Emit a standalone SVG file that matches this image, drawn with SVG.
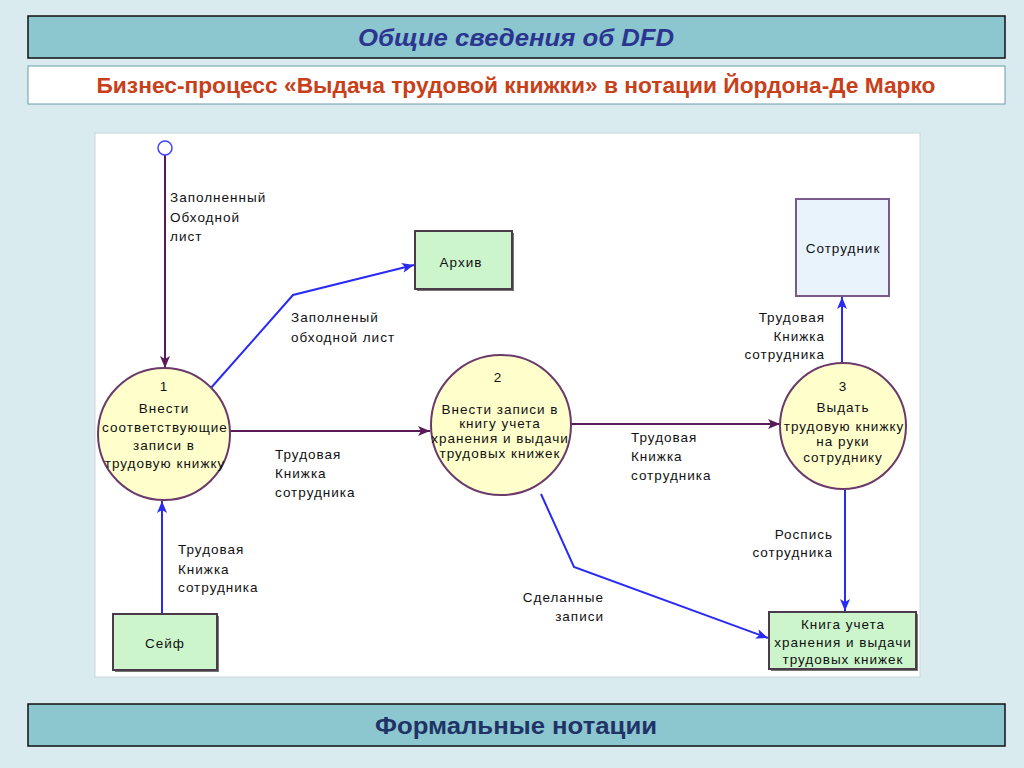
<svg xmlns="http://www.w3.org/2000/svg" width="1024" height="768" viewBox="0 0 1024 768">
<defs>
<style>
.lbl{font-family:"Liberation Sans",Arial,sans-serif;font-size:13.5px;letter-spacing:1px;fill:#111}
.mid{text-anchor:middle}
.end{text-anchor:end}
.proc{fill:#ffffcc;stroke:#6b3a6b;stroke-width:2}
.store{fill:#ccf5cc;stroke:#4a3a4a;stroke-width:2}
.shadow{fill:#777777}
.purple{stroke:#5a1a5a;stroke-width:2;fill:none}
.blue{stroke:#2a2af5;stroke-width:2;fill:none}
.banner{fill:#8cc6cf;stroke:#111;stroke-width:1.5}
</style>
<marker id="ap" viewBox="0 0 12 10" refX="12" refY="5" markerWidth="12" markerHeight="10" orient="auto" markerUnits="userSpaceOnUse"><path d="M0,0 L12,5 L0,10 L3,5 z" fill="#5a1a5a"/></marker>
<marker id="ab" viewBox="0 0 12 10" refX="12" refY="5" markerWidth="12" markerHeight="10" orient="auto" markerUnits="userSpaceOnUse"><path d="M0,0 L12,5 L0,10 L3,5 z" fill="#2a2af5"/></marker>
</defs>
<rect x="0" y="0" width="1024" height="768" fill="#d9ebef"/>
<g id="title">
<rect class="banner" x="28" y="16" width="977" height="42"/>
<text x="516" y="46" text-anchor="middle" font-family="Liberation Sans,Arial,sans-serif" font-size="24" font-weight="bold" font-style="italic" fill="#2b3590" textLength="316" lengthAdjust="spacingAndGlyphs">Общие сведения об DFD</text>
</g>
<g id="subtitle">
<rect x="28" y="66" width="977" height="38" fill="#ffffff" stroke="#6a9aa8" stroke-width="1"/>
<text x="516" y="93" text-anchor="middle" font-family="Liberation Sans,Arial,sans-serif" font-size="22" font-weight="bold" fill="#c8401a" textLength="839" lengthAdjust="spacingAndGlyphs">Бизнес-процесс «Выдача трудовой книжки» в нотации Йордона-Де Марко</text>
</g>
<g id="footer">
<rect class="banner" x="28" y="704" width="977" height="42"/>
<text x="516" y="734" text-anchor="middle" font-family="Liberation Sans,Arial,sans-serif" font-size="24" font-weight="bold" fill="#1f3366" textLength="282" lengthAdjust="spacingAndGlyphs">Формальные нотации</text>
</g>
<rect x="95" y="133" width="825" height="544" fill="#ffffff" stroke="#c8d8dc" stroke-width="1"/>

<g id="connectors">
<line class="purple" x1="165" y1="155" x2="165" y2="368" marker-end="url(#ap)"/>
<polyline class="blue" points="210,389 293,295 414,265" marker-end="url(#ab)"/>
<line class="purple" x1="230" y1="431" x2="430" y2="431" marker-end="url(#ap)"/>
<line class="blue" x1="162" y1="614" x2="162" y2="501" marker-end="url(#ab)"/>
<line class="purple" x1="571" y1="424" x2="780" y2="424" marker-end="url(#ap)"/>
<polyline class="blue" points="541,494 574,567 768,638" marker-end="url(#ab)"/>
<line class="blue" x1="842" y1="364" x2="842" y2="297" marker-end="url(#ab)"/>
<line class="blue" x1="845" y1="490" x2="845" y2="611" marker-end="url(#ab)"/>
<text class="lbl" x="170" y="202">Заполненный</text>
<text class="lbl" x="170" y="222">Обходной</text>
<text class="lbl" x="170" y="241">лист</text>
<text class="lbl" x="291" y="322">Заполненый</text>
<text class="lbl" x="291" y="342">обходной лист</text>
<text class="lbl" x="275" y="459">Трудовая</text>
<text class="lbl" x="275" y="478">Книжка</text>
<text class="lbl" x="275" y="497">сотрудника</text>
<text class="lbl" x="178" y="554">Трудовая</text>
<text class="lbl" x="178" y="574">Книжка</text>
<text class="lbl" x="178" y="592">сотрудника</text>
<text class="lbl" x="631" y="442">Трудовая</text>
<text class="lbl" x="631" y="461">Книжка</text>
<text class="lbl" x="631" y="480">сотрудника</text>
<text class="lbl end" x="825" y="322">Трудовая</text>
<text class="lbl end" x="825" y="341">Книжка</text>
<text class="lbl end" x="825" y="359">сотрудника</text>
<text class="lbl end" x="833" y="539">Роспись</text>
<text class="lbl end" x="833" y="557">сотрудника</text>
<text class="lbl end" x="604" y="602">Сделанные</text>
<text class="lbl end" x="604" y="621">записи</text>
</g>

<g id="start">
<circle cx="165" cy="148" r="7" fill="#ffffff" stroke="#4040ff" stroke-width="1.5"/>
</g>
<g id="p1">
<circle class="proc" cx="164" cy="434" r="66"/>
<text class="lbl mid" x="164" y="391">1</text>
<text class="lbl mid" x="164" y="413">Внести</text>
<text class="lbl mid" x="165" y="432">соответствующие</text>
<text class="lbl mid" x="164" y="450">записи в</text>
<text class="lbl mid" x="165" y="468">трудовую книжку</text>
</g>
<g id="p2">
<circle class="proc" cx="501" cy="425" r="70"/>
<text class="lbl mid" x="498" y="382">2</text>
<text class="lbl mid" x="500" y="414">Внести записи в</text>
<text class="lbl mid" x="500" y="428">книгу учета</text>
<text class="lbl mid" x="500" y="443">хранения и выдачи</text>
<text class="lbl mid" x="500" y="458">трудовых книжек</text>
</g>
<g id="p3">
<circle class="proc" cx="843" cy="426" r="63"/>
<text class="lbl mid" x="843" y="391">3</text>
<text class="lbl mid" x="843" y="412">Выдать</text>
<text class="lbl mid" x="844" y="431">трудовую книжку</text>
<text class="lbl mid" x="843" y="446">на руки</text>
<text class="lbl mid" x="843" y="462">сотруднику</text>
</g>
<g id="archive">
<rect class="shadow" x="417" y="233" width="97" height="58"/>
<rect class="store" x="415" y="231" width="97" height="58"/>
<text class="lbl mid" x="461" y="267">Архив</text>
</g>
<g id="employee">
<rect x="796" y="199" width="93" height="97" fill="#e8f3fc" stroke="#7a5a8a" stroke-width="2"/>
<text class="lbl mid" x="843" y="253">Сотрудник</text>
</g>
<g id="safe">
<rect class="shadow" x="115" y="616" width="104" height="56"/>
<rect class="store" x="113" y="614" width="104" height="56"/>
<text class="lbl mid" x="165" y="648">Сейф</text>
</g>
<g id="book">
<rect class="shadow" x="771" y="614" width="147" height="57"/>
<rect class="store" x="769" y="612" width="147" height="57"/>
<text class="lbl mid" x="843" y="629">Книга учета</text>
<text class="lbl mid" x="843" y="647">хранения и выдачи</text>
<text class="lbl mid" x="843" y="664">трудовых книжек</text>
</g>
</svg>
